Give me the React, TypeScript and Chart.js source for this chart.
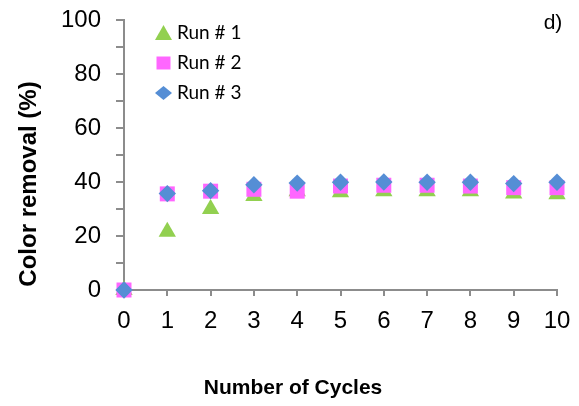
import React, { useEffect, useRef } from "react";
import { Chart, registerables } from "chart.js";

Chart.register(...registerables);

const cycles = [0, 1, 2, 3, 4, 5, 6, 7, 8, 9, 10];
const run1 = [0, 21.6, 30.0, 34.8, 36.6, 36.2, 36.6, 36.6, 36.6, 35.7, 35.5];
const run2 = [0, 35.6, 36.6, 37.3, 36.6, 38.5, 38.8, 38.8, 38.5, 37.9, 37.9];
const run3 = [0, 35.7, 36.8, 39.0, 39.6, 39.9, 40.0, 39.9, 39.9, 39.4, 39.9];
const seriesLabels = ["Run # 1", "Run # 2", "Run # 3"];
const xTitle = "Number of Cycles";
const yTitle = "Color removal (%)";
const panelLabel = "d)";

const GREEN = "#92D050";
const PINK = "#FF66FF";
const BLUE = "#558ED5";
const AXIS = "#8C8C8C";

function drawMarker(ctx: CanvasRenderingContext2D, shape: string, x: number, y: number, color: string) {
  ctx.save();
  ctx.fillStyle = color;
  ctx.beginPath();
  if (shape === "triangle") {
    ctx.moveTo(x, y - 8);
    ctx.lineTo(x + 8.5, y + 7);
    ctx.lineTo(x - 8.5, y + 7);
  } else if (shape === "rect") {
    ctx.rect(x - 7, y - 6.5, 14, 13);
  } else {
    ctx.moveTo(x - 8.5, y);
    ctx.lineTo(x, y - 7);
    ctx.lineTo(x + 8.5, y);
    ctx.lineTo(x, y + 7);
  }
  ctx.closePath();
  ctx.fill();
  ctx.restore();
}

const overlayPlugin = {
  id: "overlay",
  afterDraw(chart: any) {
    const ctx: CanvasRenderingContext2D = chart.ctx;
    ctx.save();
    const shapes = ["triangle", "rect", "rectRot"];
    const colors = [GREEN, PINK, BLUE];
    const rows = [33, 63, 93];
    ctx.font = "19px Lato, 'Open Sans', sans-serif";
    ctx.textBaseline = "middle";
    ctx.textAlign = "left";
    for (let i = 0; i < 3; i++) {
      drawMarker(ctx, shapes[i], 163.5, rows[i], colors[i]);
      ctx.fillStyle = "#000";
      ctx.fillText(seriesLabels[i], 177, rows[i]);
    }
    ctx.fillStyle = "#000";
    ctx.font = "21px 'Liberation Sans', Arial, sans-serif";
    ctx.textAlign = "center";
    ctx.fillText(panelLabel, 553, 23);
    ctx.font = "bold 21px 'Liberation Sans', Arial, sans-serif";
    ctx.fillText(xTitle, 293, 388);
    ctx.translate(29, 184);
    ctx.rotate(-Math.PI / 2);
    ctx.font = "bold 24px 'Liberation Sans', Arial, sans-serif";
    ctx.fillText(yTitle, 0, 0);
    ctx.restore();
  },
};

export default function App() {
  const ref = useRef<HTMLCanvasElement | null>(null);
  useEffect(() => {
    document.body.style.margin = "0";
    const canvas = ref.current!;
    const mk = (vals: number[]) => cycles.map((c, i) => ({ x: c, y: vals[i] }));
    const chart = new Chart(canvas, {
      type: "scatter",
      data: {
        datasets: [
          { label: seriesLabels[0], data: mk(run1), pointStyle: "triangle", pointRadius: 10, backgroundColor: GREEN, borderColor: GREEN, pointBorderWidth: 0, clip: false, order: 3 },
          { label: seriesLabels[1], data: mk(run2), pointStyle: "rect", pointRadius: 10.6, backgroundColor: PINK, borderColor: PINK, pointBorderWidth: 0, clip: false, order: 2 },
          { label: seriesLabels[2], data: mk(run3), pointStyle: "rectRot", pointRadius: 8.7, backgroundColor: BLUE, borderColor: BLUE, pointBorderWidth: 0, clip: false, order: 1 },
        ],
      },
      options: {
        responsive: false,
        animation: false,
        layout: { padding: { top: 20, right: 22, left: 0, bottom: 0 } },
        plugins: { legend: { display: false }, tooltip: { enabled: false } },
        scales: {
          x: {
            type: "linear",
            min: 0,
            max: 10,
            afterFit: (s: any) => { s.height = 116; s.paddingLeft = 0; s.paddingRight = 0; },
            border: { color: AXIS, width: 2 },
            grid: { display: true, drawOnChartArea: false, drawTicks: true, tickLength: 6, color: AXIS, tickColor: AXIS, lineWidth: 2 },
            ticks: { stepSize: 1, autoSkip: false, padding: 11, color: "#000", font: { family: "'Liberation Sans', Arial, sans-serif", size: 24 }, maxRotation: 0 },
          },
          y: {
            type: "linear",
            min: 0,
            max: 100,
            afterFit: (s: any) => { s.width = 124; s.paddingTop = 0; s.paddingBottom = 0; },
            border: { color: AXIS, width: 2 },
            grid: { display: true, drawOnChartArea: false, drawTicks: true, tickLength: 8, color: AXIS, tickColor: AXIS, lineWidth: 2 },
            ticks: {
              stepSize: 10,
              autoSkip: false,
              padding: 15,
              color: "#000",
              font: { family: "'Liberation Sans', Arial, sans-serif", size: 24 },
              callback: (v: any) => (Number(v) % 20 === 0 ? String(v) : ""),
            },
          },
        },
      },
      plugins: [overlayPlugin],
    });
    return () => chart.destroy();
  }, []);
  return <canvas ref={ref} width={579} height={406} style={{ display: "block" }} />;
}
